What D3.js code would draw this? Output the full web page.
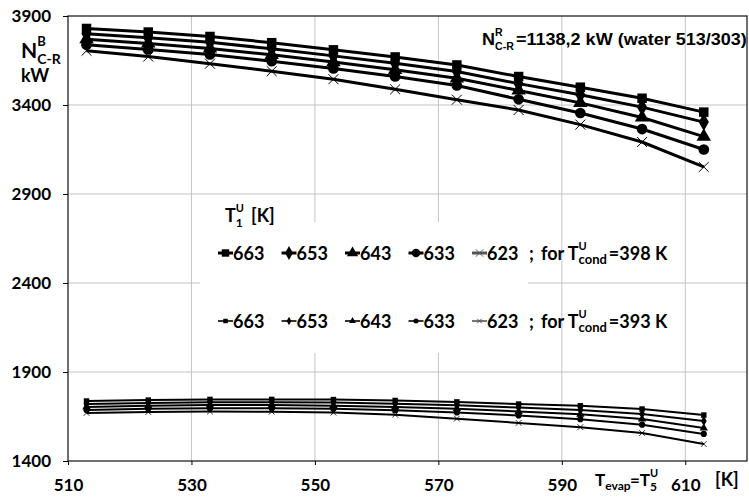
<html>
  <head>
    <meta charset="utf-8">
    <style>
      body { margin: 0; background: #fff; }
      text { font-weight: bold; fill: #000; }
    </style>
  </head>
  <body>
    <div id="vis"></div>
    <script src="https://d3js.org/d3.v7.min.js"></script>
    <script>
      // evaporation temperature, K
      const tEvap = [513, 523, 533, 543, 553, 563, 573, 583, 593, 603, 613]
      const t1 = [663, 653, 643, 633, 623]
      const xTicks = [510, 530, 550, 570, 590, 610]
      const yTicks = [1400, 1900, 2400, 2900, 3400, 3900]

      // T_cond = 398 K
      const n398_663 = [3830, 3810, 3785, 3750, 3710, 3670, 3625, 3560, 3500, 3438, 3360]
      const n398_653 = [3800, 3778, 3752, 3716, 3676, 3634, 3588, 3520, 3458, 3388, 3304]
      const n398_643 = [3770, 3746, 3718, 3682, 3641, 3598, 3550, 3482, 3412, 3330, 3222]
      const n398_633 = [3738, 3712, 3684, 3646, 3605, 3560, 3510, 3432, 3355, 3265, 3150]
      const n398_623 = [3705, 3672, 3632, 3590, 3545, 3488, 3430, 3372, 3290, 3192, 3052]

      // T_cond = 393 K
      const n393_663 = [1737, 1742, 1746, 1746, 1745, 1740, 1732, 1720, 1710, 1692, 1658]
      const n393_653 = [1720, 1726, 1730, 1730, 1728, 1722, 1713, 1700, 1686, 1664, 1625]
      const n393_643 = [1704, 1710, 1714, 1714, 1711, 1704, 1694, 1678, 1662, 1636, 1585]
      const n393_633 = [1687, 1693, 1697, 1697, 1693, 1685, 1673, 1656, 1635, 1604, 1552]
      const n393_623 = [1670, 1675, 1678, 1677, 1672, 1660, 1638, 1614, 1590, 1557, 1495]

      const set398 = [n398_663, n398_653, n398_643, n398_633, n398_623]
      const set393 = [n393_663, n393_653, n393_643, n393_633, n393_623]

      const W = 749, H = 498
      const SANS = 'Lato, "Open Sans", sans-serif'
      const ARIAL = '"Liberation Sans", Arial, sans-serif'
      const svg = d3.select('#vis').append('svg').attr('width', W).attr('height', H)
        .style('font-family', SANS)

      const x = d3.scaleLinear().domain([510, 620]).range([68, 747])
      const y = d3.scaleLinear().domain([1400, 3900]).range([461, 16])

      // X marker (thin cross)
      const symX = {
        draw(ctx, size) {
          const r = Math.sqrt(size) / 2
          ctx.moveTo(-r, -r); ctx.lineTo(r, r)
          ctx.moveTo(r, -r); ctx.lineTo(-r, r)
        }
      }
      const shapes = [d3.symbolSquare, d3.symbolDiamond, d3.symbolTriangle, d3.symbolCircle, symX]

      // grid
      svg.append('g').selectAll('line').data(yTicks.slice(1, -1)).join('line')
        .attr('x1', x.range()[0]).attr('x2', x.range()[1])
        .attr('y1', d => y(d)).attr('y2', d => y(d))
        .attr('stroke', '#c4c4c4').attr('stroke-width', 1)
      svg.append('g').selectAll('line').data(xTicks.slice(1)).join('line')
        .attr('x1', d => x(d)).attr('x2', d => x(d))
        .attr('y1', y.range()[0]).attr('y2', y.range()[1])
        .attr('stroke', '#c4c4c4').attr('stroke-width', 1)

      // legend box hides grid
      svg.append('rect').attr('x', 200).attr('y', 222).attr('width', 328).attr('height', 131).attr('fill', '#fff')

      // frame
      svg.append('rect').attr('x', 68).attr('y', 16).attr('width', 679).attr('height', 445)
        .attr('fill', 'none').attr('stroke', '#222').attr('stroke-width', 1.3)

      // axes
      svg.append('g').attr('transform', 'translate(68,0)')
        .call(d3.axisLeft(y).tickValues(yTicks).tickFormat(d3.format('d')).tickSize(5).tickPadding(12))
        .call(g => g.select('.domain').remove())
        .call(g => g.selectAll('text').attr('font-size', 17).style('font-family', SANS))
      svg.append('g').attr('transform', 'translate(0,461)')
        .call(d3.axisBottom(x).tickValues(xTicks).tickFormat(d3.format('d')).tickSize(4).tickPadding(14))
        .call(g => g.select('.domain').remove())
        .call(g => g.selectAll('text').attr('font-size', 17).style('font-family', SANS))

      const line = d3.line().x((d, i) => x(tEvap[i])).y(d => y(d))

      function drawSet(set, lw, msize, ms) {
        set.forEach((vals, k) => {
          svg.append('path').datum(vals).attr('d', line)
            .attr('fill', 'none').attr('stroke', '#000').attr('stroke-width', lw)
          const isX = k === 4
          svg.append('g').selectAll('path').data(vals).join('path')
            .attr('transform', (d, i) => `translate(${x(tEvap[i])},${y(d)})`)
            .attr('d', d3.symbol().type(shapes[k]).size(isX ? msize * 1.1 : msize))
            .attr('fill', isX ? 'none' : '#000')
            .attr('stroke', isX ? '#000' : 'none')
            .attr('stroke-width', ms)
        })
      }
      drawSet(set398, 3, 90, 1)
      drawSet(set393, 2, 30, 0.8)

      // text with stacked super/subscript after a base, in one text element
      function stacked(px, py, size, base, sup, sub, rest, supSize, subSize, font) {
        const t = svg.append('text').attr('x', px).attr('y', py).attr('font-size', size)
          .style('font-family', font || SANS)
        t.append('tspan').text(base)
        if (sup) {
          const s1 = t.append('tspan').attr('dy', -size * 0.55).attr('font-size', supSize).text(sup)
          const w = s1.node().getComputedTextLength()
          t.append('tspan').attr('dx', -w).attr('dy', size * 0.82).attr('font-size', subSize).text(sub)
          if (rest) t.append('tspan').attr('dx', 2).attr('dy', -size * 0.27).text(rest)
        } else {
          t.append('tspan').attr('dy', size * 0.25).attr('font-size', subSize).text(sub)
          if (rest) t.append('tspan').attr('dx', 2).attr('dy', -size * 0.25).text(rest)
        }
        return t
      }

      // legend
      stacked(225, 222, 18, 'T', 'U', '1', null, 11, 12)
      svg.append('text').attr('x', 251).attr('y', 222).attr('font-size', 18).text('[K]')

      function legendRow(cy, lw, msize, cond) {
        t1.forEach((t, k) => {
          const lx = 218 + k * 63.5
          svg.append('line').attr('x1', lx).attr('x2', lx + 15).attr('y1', cy).attr('y2', cy)
            .attr('stroke', k === 4 ? '#555' : '#000').attr('stroke-width', lw)
          const isX = k === 4
          svg.append('path').attr('transform', `translate(${lx + 7.5},${cy})`)
            .attr('d', d3.symbol().type(shapes[k]).size(msize))
            .attr('fill', isX ? 'none' : '#000')
            .attr('stroke', isX ? '#555' : 'none').attr('stroke-width', 1)
          svg.append('text').attr('x', lx + 15).attr('y', cy + 6.5).attr('font-size', 18).text(t)
        })
        svg.append('text').attr('x', 529).attr('y', cy + 6.5).attr('font-size', 18).text(';')
        stacked(541, cy + 6.5, 18, 'for T', 'U', 'cond', `=${cond} K`, 11, 13)
      }
      legendRow(253, 3, 55, 398)
      legendRow(321, 1.6, 20, 393)

      // y axis title
      stacked(21, 58, 21, 'N', 'B', 'C-R', null, 13, 14)
      svg.append('text').attr('x', 21).attr('y', 82).attr('font-size', 18).text('kW')

      // annotation, stretched to the width it has in the chart
      const ann = stacked(482, 45, 17, 'N', 'R', 'C-R', '=1138,2 kW (water 513/303)', 10, 10, ARIAL)
      const aw = ann.node().getBBox().width
      ann.attr('transform', `translate(482,0) scale(${265 / aw},1) translate(-482,0)`)

      // x axis title
      stacked(595, 486, 17, 'T', '', 'evap', null, 11, 12)
      stacked(630, 486, 17, '=T', 'U', '5', null, 11, 12)
      svg.append('text').attr('x', 715).attr('y', 486).attr('font-size', 18).text('[K]')
    </script>
  </body>
</html>
